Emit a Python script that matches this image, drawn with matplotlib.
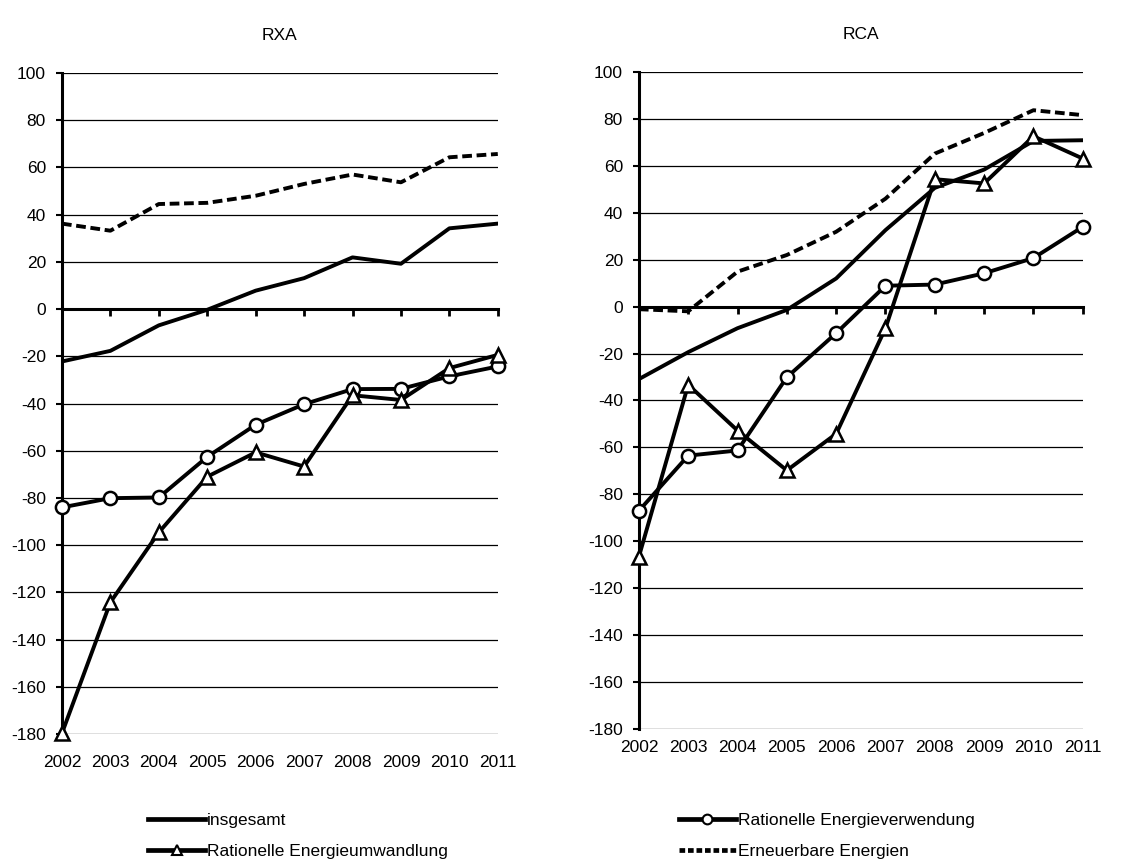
import matplotlib.pyplot as plt
from matplotlib.lines import Line2D

plt.rcParams['font.family'] = ['Liberation Sans', 'DejaVu Sans']

# Daten
years = [2002, 2003, 2004, 2005, 2006, 2007, 2008, 2009, 2010, 2011]

rxa_insgesamt = [-22.2, -17.7, -6.9, -0.3, 7.8, 13.1, 21.9, 19.2, 34.2, 36.2]
rxa_verwendung = [-84.0, -80.1, -79.8, -62.6, -49.0, -40.3, -33.9, -33.8, -28.5, -24.3]
rxa_umwandlung = [-179.7, -124.2, -94.6, -71.0, -60.7, -66.7, -36.5, -38.5, -25.0, -19.4]
rxa_erneuerbar = [36.2, 33.2, 44.5, 45.0, 48.0, 53.0, 57.0, 53.7, 64.3, 65.7]

rca_insgesamt = [-30.9, -19.4, -9.2, -1.4, 12.0, 32.6, 50.6, 58.4, 70.6, 70.9]
rca_verwendung = [-87.0, -63.5, -61.3, -30.1, -11.3, 8.9, 9.4, 14.2, 20.7, 34.0]
rca_umwandlung = [-106.6, -33.3, -52.8, -69.8, -54.2, -9.2, 54.3, 52.5, 72.6, 63.1]
rca_erneuerbar = [-1.1, -2.0, 14.9, 22.0, 31.9, 46.0, 65.2, 74.0, 83.7, 81.6]

labels = ['insgesamt', 'Rationelle Energieverwendung',
          'Rationelle Energieumwandlung', 'Erneuerbare Energien']
yticks = list(range(-180, 101, 20))

fig = plt.figure(figsize=(11.47, 8.66), dpi=100)
ax1 = fig.add_axes([0.054, 0.1524, 0.380, 0.7633])
ax2 = fig.add_axes([0.557, 0.1582, 0.387, 0.7587])

lw = 2.8
fs = 12.5


def draw_panel(ax, title, ins, verw, umw, ern, xpad):
    ax.plot(years, ins, color='black', lw=lw, zorder=3)
    ax.plot(years, ern, color='black', lw=lw, dashes=(2.5, 1.2), zorder=3)
    ax.plot(years, verw, color='black', lw=lw, marker='o', ms=9.5,
            mfc='white', mec='black', mew=1.8, zorder=4, clip_on=False)
    ax.plot(years, umw, color='black', lw=lw, marker='^', ms=10,
            mfc='white', mec='black', mew=1.8, zorder=4, clip_on=False)

    ax.set_xlim(2002, 2011)
    ax.set_ylim(-180, 100)
    ax.set_yticks(yticks)
    ax.set_yticklabels([str(v) for v in yticks])
    for v in yticks:
        if v != 0:
            ax.axhline(v, color='black', lw=0.9, zorder=1)

    for s in ['top', 'right']:
        ax.spines[s].set_visible(False)
    ax.spines['left'].set_linewidth(2.2)
    ax.spines['bottom'].set_position(('data', 0))
    ax.spines['bottom'].set_linewidth(2.2)
    ax.set_xticks(years)
    ax.tick_params(axis='x', direction='out', length=5, width=2,
                   labelbottom=False)
    ax.tick_params(axis='y', direction='out', length=4.5, width=1.5,
                   labelsize=fs, pad=7)

    sec = ax.secondary_xaxis(0)
    sec.set_xticks(years)
    sec.set_xticklabels([str(y) for y in years])
    sec.tick_params(length=0, pad=xpad, labelsize=fs)
    sec.spines['bottom'].set_visible(False)

    ax.set_title(title, fontsize=fs, pad=24)


draw_panel(ax1, 'RXA', rxa_insgesamt, rxa_verwendung, rxa_umwandlung, rxa_erneuerbar, 15)
draw_panel(ax2, 'RCA', rca_insgesamt, rca_verwendung, rca_umwandlung, rca_erneuerbar, 8)

handles = [
    Line2D([], [], color='black', lw=3.4),
    Line2D([], [], color='black', lw=3.4, marker='^', ms=7, mfc='white', mew=1.5),
    Line2D([], [], color='black', lw=3.4, marker='o', ms=7, mfc='white', mew=1.5),
    Line2D([], [], color='black', lw=3.4, dashes=(1.2, 0.6)),
]
order_labels = [labels[0], labels[2], labels[1], labels[3]]
fig.legend(handles, order_labels, loc='upper left',
           bbox_to_anchor=(0.129, 0.061), ncol=2, frameon=False,
           fontsize=fs, handlelength=3.3, handletextpad=0.1,
           columnspacing=13.3, labelspacing=0.92,
           borderpad=0, borderaxespad=0)

fig.savefig('out.png', dpi=100)
